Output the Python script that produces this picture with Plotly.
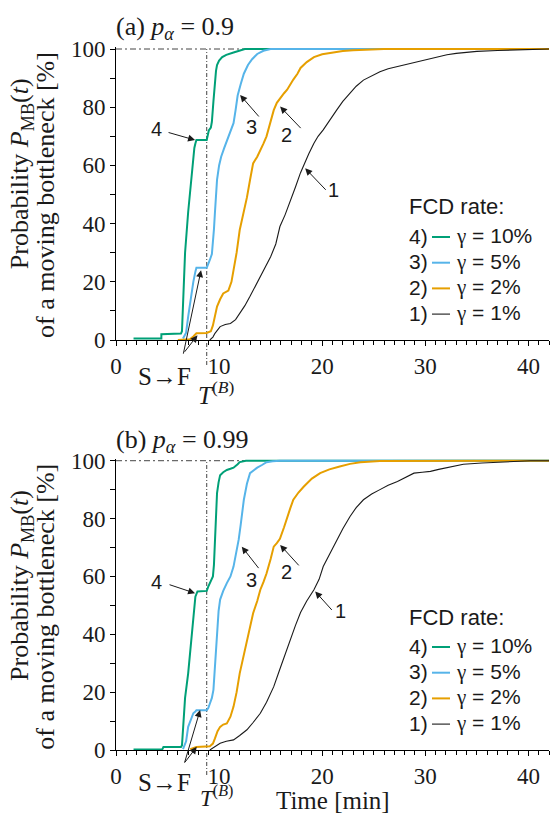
import plotly.graph_objects as go

# ---------------- data: cumulative probability of a moving bottleneck [%] vs time [min]
# panel (a): p_alpha = 0.9
t4a = [1.7, 4.4, 4.4, 6.3, 6.4, 6.5, 6.7, 7.0, 7.2, 7.4, 7.6, 7.7, 7.8, 8.8, 8.9, 9.0, 9.2,
       9.3, 9.45, 9.6, 9.7, 9.8, 10.0, 10.3, 10.7, 11.4, 12.0, 12.5, 42]
p4a = [0.5, 0.5, 2.0, 2.2, 3.0, 12, 30, 44, 52, 60, 66, 67.5, 68.7, 68.7, 70.5, 72, 73,
       75, 82, 89, 92.5, 94.5, 96, 97.2, 98.0, 98.8, 99.5, 100, 100]

t3a = [6.5, 6.8, 7.0, 7.2, 7.5, 7.7, 7.8, 8.8, 8.95, 9.1, 9.3, 9.4, 9.5, 9.6, 9.7, 9.8,
       10.0, 10.2, 10.5, 10.8, 11.1, 11.4, 11.6, 11.8, 12.1, 12.4, 12.8, 13.2, 13.7, 14.3,
       15.0, 42]
p3a = [0.5, 2.5, 8, 13, 20, 23.5, 24.8, 24.8, 26, 27.5, 29.5, 33, 38, 44, 50, 55,
       60, 63, 66, 68.7, 71.5, 74.5, 79, 84, 88, 91.5, 94.5, 96.5, 98.3, 99.4,
       100, 100]

t2a = [6.0, 7.2, 7.5, 7.8, 8.8, 9.2, 9.4, 9.6, 9.8, 10.1, 10.4, 10.9, 11.2, 11.4, 11.7,
       12.0, 12.4, 12.7, 13.0, 13.3, 13.7, 14.0, 14.3, 14.6, 14.9, 15.3, 15.6, 15.9, 16.3,
       16.6, 16.9, 17.2, 17.6, 17.9, 18.5, 19.2, 20.0, 20.8, 22.0, 23.0, 24.5, 26.0, 42]
p2a = [0, 0.3, 1.2, 2.3, 2.4, 3.0, 5, 8.5, 11.5, 14, 16, 17, 20, 24, 30,
       37.8, 44, 49, 55, 60.7, 63, 65, 67.5, 70, 74, 79, 81.5, 83, 84.8,
       86, 88, 89.5, 91.5, 93.5, 95.5, 97.2, 98.2, 98.7, 99.3, 99.6, 99.8, 100, 100]

t1a = [9.1, 9.4, 9.6, 10.1, 10.6, 11.1, 11.6, 12.0, 12.5, 13.0, 13.5, 14.0, 14.5, 15.0,
       15.5, 15.9, 16.4, 16.9, 17.4, 17.9, 18.3, 18.7, 19.2, 19.6, 20.1, 20.7, 21.4, 22.0,
       22.7, 23.3, 24.0, 24.8, 25.6, 26.4, 27.3, 28.1, 28.9, 29.7, 30.5, 31.3, 32.1, 33.0,
       33.7, 35.0, 37.0, 38.5, 40.0, 42]
p1a = [0, 1.0, 2.3, 4.6, 5.3, 5.7, 7.0, 9.0, 11.8, 15.0, 18.5, 21.8, 25.0, 28.6,
       33, 39, 43, 47.5, 52.5, 57.5, 61, 64, 67.6, 70, 72.2, 75.5, 79, 82,
       84.8, 87.2, 89.3, 90.8, 92.2, 93.2, 94, 94.6, 95.2, 96.0, 96.8, 97.5, 98.0, 98.5,
       98.8, 99.2, 99.5, 99.7, 99.9, 100]

# panel (b): p_alpha = 0.99
t4b = [1.7, 4.5, 4.6, 6.3, 6.4, 6.5, 6.7, 7.0, 7.35, 7.55, 7.7, 7.9, 8.8, 8.95, 9.1,
       9.3, 9.4, 9.5, 9.6, 9.7, 9.8, 9.95, 10.1, 10.4, 10.75, 11.1, 11.4, 11.8, 12.0,
       12.6, 42]
p4b = [0.2, 0.3, 1.0, 1.0, 1.6, 8, 18, 26.5, 40, 48, 53, 54.8, 55, 56.5, 57.7,
       59, 60, 64, 72.7, 82, 88.8, 92.5, 95, 96, 96.8, 97.2, 97.6, 98.8, 99.5,
       100, 100]

t3b = [6.5, 6.8, 7.0, 7.3, 7.5, 7.7, 7.8, 8.8, 8.95, 9.1, 9.3, 9.45, 9.55, 9.65, 9.8,
       9.95, 10.1, 10.4, 10.75, 11.1, 11.4, 11.6, 11.9, 12.1, 12.4, 12.7, 13.0, 13.4,
       13.7, 14.2, 14.6, 15.2, 15.9, 42]
p3b = [0.3, 3, 8, 11, 12.7, 13.3, 13.7, 13.7, 14.5, 16, 18, 20.8, 26, 32, 42.7,
       48, 52, 55, 57.7, 60, 63.4, 67, 72.7, 78, 86.5, 92, 95.7, 96.8,
       97.6, 98.6, 99.5, 99.8, 100, 100]

t2b = [7.2, 7.6, 7.8, 9.1, 9.4, 9.6, 9.85, 10.1, 10.4, 10.75, 11.1, 11.4, 11.7, 12.0,
       12.35, 12.7, 13.0, 13.3, 13.7, 14.0, 14.3, 14.6, 15.0, 15.3, 15.6, 15.9, 16.3,
       16.6, 16.9, 17.2, 17.7, 18.2, 19.0, 19.8, 20.7, 21.7, 22.7, 23.7, 25.6, 42]
p2b = [0.3, 0.8, 1.0, 1.3, 2.2, 4, 6.5, 8, 8.8, 9.2, 11.5, 15, 20, 26.5,
       32, 38, 43, 47.3, 51.5, 55.4, 58, 61, 66, 70.3, 71.5, 73, 77,
       80.7, 83.5, 86.5, 89, 91, 93.8, 95.7, 97, 98, 98.9, 99.5, 99.9, 100]

t1b = [9.1, 9.6, 10.1, 10.7, 11.4, 12.0, 12.7, 13.3, 14.0, 14.6, 15.3, 15.9, 16.6, 16.9,
       17.4, 17.9, 18.5, 19.2, 19.7, 20.1, 20.7, 21.4, 22.0, 22.7, 23.3, 24.0, 24.8, 25.6,
       26.4, 27.3, 28.1, 28.9, 29.7, 30.5, 31.3, 32.1, 33.0, 33.7, 35.5, 37.0, 38.5, 40.2, 42]
p1b = [0, 1.2, 2.3, 3.0, 3.5, 5.0, 7.0, 9.5, 12.7, 16.5, 21.9, 28, 35, 38.5,
       43, 47.5, 51.5, 55.4, 59, 63.4, 67.5, 72.7, 76.5, 80.7, 83.8, 86.5, 88.5, 90,
       91.5, 92.8, 94.2, 95.7, 96.0, 96.3, 97.0, 97.6, 98.3, 98.8, 99.2, 99.5, 99.7, 100, 100]

curve_ids = ["4", "3", "2", "1"]
fcd_rates = ["10%", "5%", "2%", "1%"]
colors = ["#00a077", "#56b4e9", "#e69f00", "#1a1a1a"]
widths = [2, 2, 2, 1.1]
panel_titles = ["(a) <i>p</i><sub><i>α</i></sub> = 0.9", "(b) <i>p</i><sub><i>α</i></sub> = 0.99"]
t_break = 8.8          # T^(B)
x_ticks = [0, 10, 20, 30, 40]
y_ticks = [0, 20, 40, 60, 80, 100]

panels = [
    [(t4a, p4a), (t3a, p3a), (t2a, p2a), (t1a, p1a)],
    [(t4b, p4b), (t3b, p3b), (t2b, p2b), (t1b, p1b)],
]
for series in panels:
    for t, p in series:
        assert len(t) == len(p)

# ---------------- layout geometry (pixels of the 551 x 814 page)
W, H = 551, 814
L, R = 116, 2
Y_TOP = 100.7


def py(pix):
    return 1 - pix / H


def px(pix):
    return (pix - L) / (W - L - R)


# pixel rows of y = 0 and y = 100 in each panel
rows = [(340, 49), (750, 460.7)]
domains = []
for y0, y100 in rows:
    k = (y0 - y100) / 100
    domains.append([py(y0), py(y100 - (Y_TOP - 100) * k)])

serif = "Liberation Serif"
sans = "Liberation Sans"
ink = "#1a1a1a"

fig = go.Figure()
for i, series in enumerate(panels):
    xa = "x" if i == 0 else "x2"
    ya = "y" if i == 0 else "y2"
    for j, (t, p) in enumerate(series):
        fig.add_trace(go.Scatter(x=t, y=p, mode="lines", xaxis=xa, yaxis=ya,
                                 line=dict(color=colors[j], width=widths[j]),
                                 showlegend=False, hoverinfo="skip"))

axis_common = dict(range=[0, 42], showline=True, linecolor="black", linewidth=1,
                   ticks="outside", ticklen=5, tickcolor="black", tickvals=x_ticks,
                   showgrid=False, zeroline=False, domain=[0, 1], automargin=False,
                   tickfont=dict(family=serif, size=23, color=ink),
                   minor=dict(dtick=1, ticks="outside", ticklen=4, tickcolor="black"))
yaxis_common = dict(range=[0, Y_TOP], showline=True, linecolor="black", linewidth=1,
                    ticks="outside", ticklen=5, tickcolor="black", tickvals=y_ticks,
                    showgrid=False, zeroline=False, automargin=False,
                    tickfont=dict(family=serif, size=23, color=ink),
                    minor=dict(dtick=10, ticks="outside", ticklen=5, tickcolor="black"))

fig.update_layout(
    width=W, height=H,
    margin=dict(l=L, r=R, t=0, b=0, pad=0, autoexpand=False),
    paper_bgcolor="white", plot_bgcolor="white",
    xaxis=dict(axis_common, anchor="y"),
    yaxis=dict(yaxis_common, anchor="x", domain=domains[0]),
    xaxis2=dict(axis_common, anchor="y2"),
    yaxis2=dict(yaxis_common, anchor="x2", domain=domains[1]),
)

# reference lines: 100 % level and T^(B)
for i in range(2):
    xr = "x" if i == 0 else "x2"
    yr = "y" if i == 0 else "y2"
    fig.add_shape(type="line", xref=xr, yref=yr, x0=0, x1=12.5, y0=100, y1=100,
                  line=dict(color="#444", width=1, dash="6px,3px,2px,3px"), layer="below")
    fig.add_shape(type="line", xref=xr, yref="paper", x0=t_break, x1=t_break,
                  y0=py(rows[i][0] + 25), y1=py(rows[i][1]),
                  line=dict(color="#444", width=1, dash="4px,2px,1px,2px"), layer="below")

# curve labels with arrows: (head time, head prob, tail dx, tail dy, label time, label prob)
curve_arrows = [
    [(7.67, 68.7, -28, -8, 3.94, 72.4), (12.04, 84.2, 20, 23, 13.17, 73.3),
     (15.92, 80.2, 22, 23, 16.57, 70.4), (18.35, 59.0, 22, 23, 21.1, 51.5)],
    [(7.67, 54.2, -27, -9, 3.95, 58.2), (12.2, 70.3, 18, 23, 13.17, 58.8),
     (15.92, 70.9, 20, 22, 16.57, 61.7), (19.32, 54.8, 18, 20, 21.75, 47.9)],
]
# S->F arrows: (head time, head prob, tail dx, tail dy)
sf_arrows = [
    [(8.25, 24.0, -18, 85), (7.9, 1.6, -14, 18)],
    [(8.16, 13.8, -16, 54), (7.83, 1.1, -13, 17)],
]
# pixel rows of the S->F and T^(B) labels, panel titles and y-title lines
sf_rows = [376, 782]
tb_rows = [393, 796]
tb_sizes = [25, 23]
title_rows = [28, 441]
ytitle_rows = [(173.5, 195), (585.2, 606.7)]


def note(**kw):
    kw.setdefault("showarrow", False)
    kw.setdefault("xanchor", "center")
    kw.setdefault("yanchor", "middle")
    fig.add_annotation(**kw)


for i in range(2):
    xr = "x" if i == 0 else "x2"
    yr = "y" if i == 0 else "y2"
    for j, (hx, hy, dx, dy, lx, ly) in enumerate(curve_arrows[i]):
        fig.add_annotation(xref=xr, yref=yr, x=hx, y=hy, ax=dx, ay=dy, text="",
                           showarrow=True, arrowhead=2, arrowsize=1.4, arrowwidth=1,
                           arrowcolor=ink, standoff=0)
        note(xref=xr, yref=yr, x=lx, y=ly, text=curve_ids[j],
             font=dict(family=sans, size=20, color=ink))
    for hx, hy, dx, dy in sf_arrows[i]:
        fig.add_annotation(xref=xr, yref=yr, x=hx, y=hy, ax=dx, ay=dy, text="",
                           showarrow=True, arrowhead=2, arrowsize=1.4, arrowwidth=1,
                           arrowcolor=ink, standoff=0)
    note(xref=xr, yref="paper", x=4.75, y=py(sf_rows[i]), text="S→F",
         font=dict(family=serif, size=25, color=ink))
    note(xref=xr, yref="paper", x=9.7, y=py(tb_rows[i]),
         text="<i>T</i><sup>(<i>B</i>)</sup>",
         font=dict(family=serif, size=tb_sizes[i], color=ink))
    # panel title
    note(xref="paper", yref="paper", x=px(114), y=py(title_rows[i]), xanchor="left",
         text=panel_titles[i], font=dict(family=serif, size=26, color=ink))
    # y-axis title (two lines)
    note(xref="paper", yref="paper", x=px(21.7), y=py(ytitle_rows[i][0]),
         text="Probability <i>P</i><sub>MB</sub>(<i>t</i>)", textangle=-90,
         font=dict(family=serif, size=26, color=ink))
    note(xref="paper", yref="paper", x=px(46), y=py(ytitle_rows[i][1]),
         text="of a moving bottleneck [%]", textangle=-90,
         font=dict(family=serif, size=26, color=ink))
    # legend block: label, coloured line sample, rate
    base = 207 if i == 0 else 617
    note(xref="paper", yref="paper", x=px(407), y=py(base), xanchor="left",
         text="FCD rate:", font=dict(family=sans, size=22, color=ink))
    for j in range(4):
        row = base + 29 + 25.7 * j
        note(xref="paper", yref="paper", x=px(407), y=py(row), xanchor="left",
             text=f"{curve_ids[j]})", font=dict(family=sans, size=21, color=ink))
        fig.add_shape(type="line", xref="paper", yref="paper",
                      x0=px(432), x1=px(450), y0=py(row + 1), y1=py(row + 1),
                      line=dict(color=colors[j], width=widths[j]))
        note(xref="paper", yref="paper", x=px(454), y=py(row), xanchor="left",
             text=f"<span style='font-family:{serif}'>γ</span> = {fcd_rates[j]}",
             font=dict(family=sans, size=21, color=ink))

note(xref="paper", yref="paper", x=px(333), y=py(800), text="Time [min]",
     font=dict(family=serif, size=25, color=ink))

fig.write_html("out.html")
